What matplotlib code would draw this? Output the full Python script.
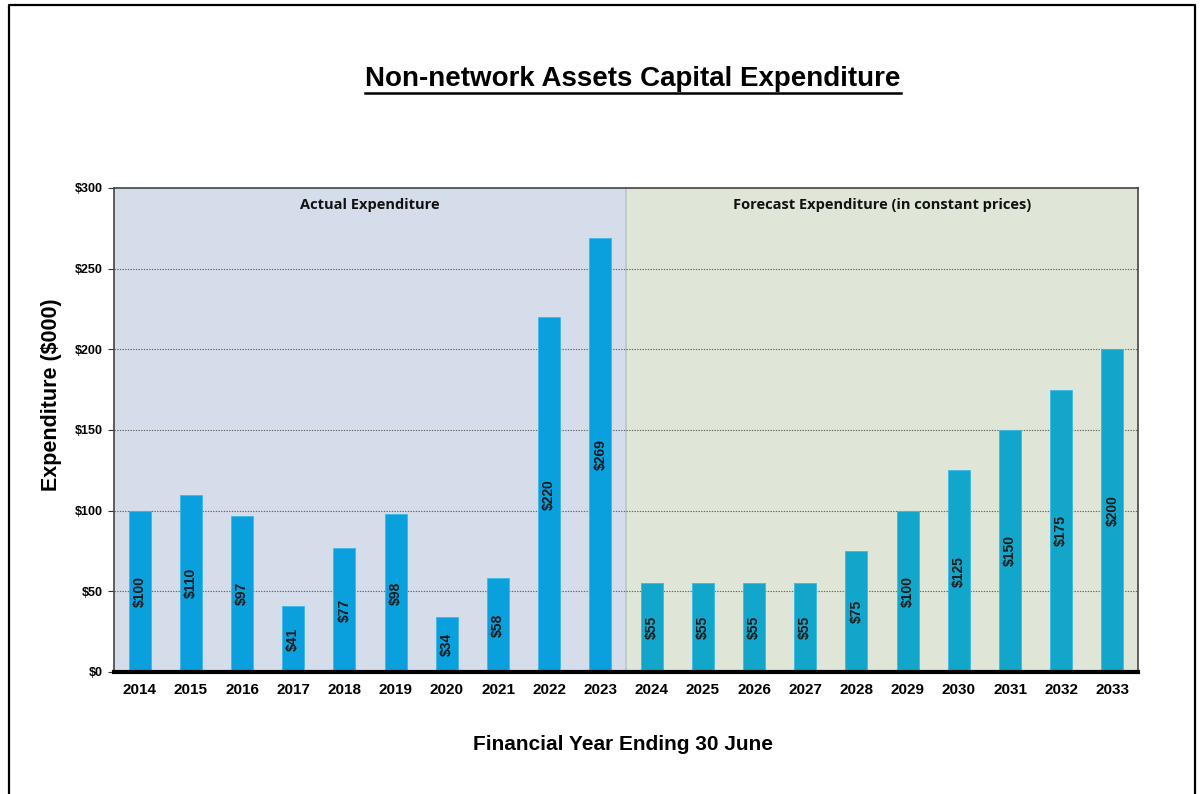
import numpy as np
import matplotlib
matplotlib.use("Agg")
from matplotlib import pyplot as plt
from matplotlib.lines import Line2D

plt.rcParams['font.family'] = ['Liberation Sans', 'DejaVu Sans']

# data
years = [str(y) for y in range(2014, 2034)]
actual = [100, 110, 97, 41, 77, 98, 34, 58, 220, 269]
forecast = [55, 55, 55, 55, 75, 100, 125, 150, 175, 200]
y_ticks = [0, 50, 100, 150, 200, 250, 300]

ACTUAL_BAR = '#0A9FDD'
FORECAST_BAR = '#12A7CA'
ACTUAL_BG = '#D6DDEA'
FORECAST_BG = '#DFE5D7'

fig = plt.figure(figsize=(12.02, 7.94), dpi=100)
ax = fig.add_axes([114/1202, 122/794, 1024/1202, 484/794])

n_act = len(actual)
values = actual + forecast
x = np.arange(len(values))
colors = [ACTUAL_BAR]*n_act + [FORECAST_BAR]*len(forecast)

ax.axvspan(-0.5, n_act - 0.5, color=ACTUAL_BG, zorder=0.1, lw=0)
ax.axvspan(n_act - 0.5, len(values) - 0.5, color=FORECAST_BG, zorder=0.1, lw=0)
ax.axvline(n_act - 0.5, color='#B9C6CE', lw=1.2, zorder=0.3)

for yv in y_ticks[1:-1]:
    ax.axhline(yv, color='#666666', lw=0.8, ls=(0, (1.2, 1.2)), zorder=0.5)

bars = ax.bar(x, values, width=0.43, color=colors, zorder=2,
              edgecolor='#3CB8E6', linewidth=0.6)
for xi, v in zip(x, values):
    ax.text(xi, v/2, f"${v}", rotation=90, ha='center', va='center',
            fontsize=10, fontweight='bold', color='#1A1A1A', zorder=3)

ax.text((n_act - 1)/2, 289.5, "Actual Expenditure", ha='center', va='center',
        fontsize=10.5, fontweight='bold', family=['Open Sans', 'DejaVu Sans'],
        color='#111111')
ax.text(n_act + (len(forecast) - 1)/2, 289.5, "Forecast Expenditure (in constant prices)",
        ha='center', va='center', fontsize=10.5, fontweight='bold',
        family=['Open Sans', 'DejaVu Sans'], color='#111111')

ax.set_xlim(-0.5, len(values) - 0.5)
ax.set_ylim(0, 300)
ax.set_xticks(x)
ax.set_xticklabels(years, fontsize=11, fontweight='bold')
ax.set_yticks(y_ticks)
ax.set_yticklabels([f"${t}" for t in y_ticks], fontsize=9, fontweight='bold')
ax.tick_params(axis='x', length=0, pad=8)
ax.tick_params(axis='y', length=4, width=0.8, color='#333333', pad=4)

for side in ['left', 'top', 'right']:
    ax.spines[side].set_color('#444444')
    ax.spines[side].set_linewidth(1.2)
ax.spines['bottom'].set_color('black')
ax.spines['bottom'].set_linewidth(3)

fig.text(52/1202, 1 - 395/794, "Expenditure ($000)", rotation=90, ha='center',
         va='center', fontsize=15.5, fontweight='bold')
fig.text(623/1202, 1 - 744/794, "Financial Year Ending 30 June", ha='center',
         va='center', fontsize=15, fontweight='bold')

title = fig.text(633/1202, 1 - 79.5/794, "Non-network Assets Capital Expenditure",
                 ha='center', va='center', fontsize=20, fontweight='bold')

# underline the title
fig.canvas.draw()
bb = title.get_window_extent().transformed(fig.transFigure.inverted())
fig.add_artist(Line2D([bb.x0, bb.x1], [1 - 93/794]*2, color='black', lw=1.8,
                      transform=fig.transFigure))

# outer frame (no bottom edge)
fx0, fx1, fy = 8.5/1202, 1195/1202, 1 - 4.5/794
fig.add_artist(Line2D([fx0, fx0, fx1, fx1], [0, fy, fy, 0], color='black', lw=1.6,
                      transform=fig.transFigure))

fig.savefig("out.png", dpi=100)
